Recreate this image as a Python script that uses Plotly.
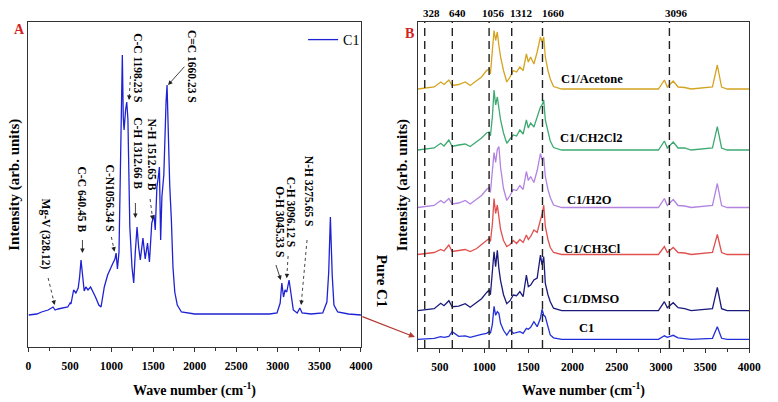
import plotly.graph_objects as go

W, H = 778, 402

# ---------------- Panel A data (pure C1 spectrum) ----------------
wavenumber_A = [0, 100, 157, 236, 295, 320, 354, 420, 472, 500, 511, 543, 570, 598, 615, 632, 650, 670,
                690, 716, 747, 779, 806, 846, 873, 912, 952, 1011, 1040, 1054, 1070, 1089, 1113, 1129,
                1140, 1150, 1168, 1182, 1196, 1219, 1245, 1266, 1285, 1306, 1325, 1345, 1377, 1404, 1432,
                1455, 1483, 1510, 1525, 1545, 1562, 1575, 1590, 1605, 1628, 1645, 1655, 1667, 1683, 1699,
                1719, 1738, 1760, 1790, 1840, 2000, 2500, 2900, 2990, 3028, 3048, 3068, 3087, 3107, 3135,
                3155, 3186, 3233, 3265, 3292, 3400, 3540, 3590, 3612, 3632, 3654, 3675, 3720, 3850, 4000]
intensity_A = [32, 33, 35, 37, 40, 37, 38, 39, 40, 44, 43, 57, 54, 59, 70, 87, 68, 56,
               60, 57, 60, 55, 50, 42, 40, 60, 72, 83, 88, 94, 78, 95, 210, 292,
               230, 217, 237, 245, 228, 120, 80, 64, 95, 120, 100, 87, 109, 88, 104,
               85, 124, 132, 117, 160, 170, 180, 107, 150, 172, 225, 245, 262, 207, 162,
               127, 80, 55, 42, 35, 33, 33, 33, 34, 44, 64, 50, 57, 55, 67,
               54, 37, 34, 39, 34, 33, 34, 45, 75, 130, 72, 42, 35, 33, 32]
series_A_name = "C1"

# ---------------- Panel B data (C1 in solvents) ----------------
wavenumber_B = [250, 435, 509, 546, 601, 638, 712, 786, 842, 916, 971, 1027, 1056, 1071, 1093, 1112, 1130,
                1149, 1167, 1186, 1219, 1256, 1293, 1330, 1367, 1404, 1441, 1478, 1500, 1526, 1563, 1600,
                1637, 1655, 1674, 1692, 1722, 1748, 1785, 1877, 2972, 3039, 3072, 3139, 3194, 3268, 3342,
                3583, 3638, 3686, 3749, 4000]
acetone = [0, 2, 7, 4.5, 9, 3.5, 4.5, 7, 3.5, 8.5, 12, 18.5, 20, 15, 35, 58.5, 48.5,
           57, 43.5, 32, 18.5, 7, 12, 18.5, 17, 22, 18.5, 35, 27, 32, 25, 37,
           52, 47, 52, 32, 18.5, 10, 2.5, 0, 0, 9, 2, 8, 2, 1.5, 0,
           2, 24, 2, 0, 0]
ch2cl2 = [0, 2, 6.7, 4, 10, 3.5, 5, 6, 3.5, 8, 12, 17, 18, 14, 33, 60, 45,
          53, 40, 30, 17, 6.7, 11, 15, 14, 20, 16, 30, 22, 27, 23, 32,
          43, 45, 50, 30, 18, 9, 2.5, 0, 0, 9, 2, 8, 2, 2, 0,
          2, 23.3, 2, 0, 0]
h2o = [0, 2, 7, 4.5, 9, 3.5, 4.5, 7, 3.5, 8.5, 12, 18, 20, 15, 33, 55, 45,
       58, 61, 40, 19, 7, 12, 18, 17, 22, 18, 36, 27, 31, 25, 37,
       54, 48, 50, 31, 18, 10, 2.5, 0, 0, 9, 2, 8, 2, 1.5, 0,
       2, 24, 2, 0, 0]
ch3cl = [0, 2, 5, 3.5, 9.5, 3, 4, 5, 3, 6, 10, 14, 16, 13, 30, 56, 41,
         49.5, 34.5, 25, 14, 8, 10, 14, 11, 15, 12, 19.5, 15, 18, 24.5, 22,
         34.5, 40, 49.5, 28, 15, 7, 2, 0, 0, 8, 2, 7, 2, 1.5, 0,
         2, 20, 2, 0, 0]
dmso = [0, 2, 7.4, 5, 10, 4, 4.5, 7, 3.5, 8, 12, 18, 20.7, 16, 40, 59, 44,
        60.5, 42, 30, 16, 7, 10, 15.7, 15, 19, 14, 35.7, 24, 25.7, 30.7, 32.7,
        55.7, 45.7, 54, 27.4, 16, 9, 2.5, 0, 0, 9, 3, 8, 3, 2, 0,
        2, 23.4, 2, 0, 0]
c1 = [0, 1, 2.6, 2, 3, 7.6, 3, 3.5, 2, 4, 5, 6, 7.6, 6, 15, 33, 24,
      27.6, 26, 16, 9, 4.3, 9.3, 6, 7, 7.6, 6, 11, 10, 12, 17.6, 12.6,
      21, 30, 24, 22.6, 12.6, 4.3, 1.5, 0, 0, 3.5, 2, 4, 1.5, 1, 0,
      1, 12.6, 1, 0, 0]
sample_names = ["C1/Acetone", "C1/CH2Cl2", "C1/H2O", "C1/CH3Cl", "C1/DMSO", "C1"]
sample_values = [acetone, ch2cl2, h2o, ch3cl, dmso, c1]
reference_lines = [328, 640, 1056, 1312, 1660, 3096]
tick_values_A = [0, 500, 1000, 1500, 2000, 2500, 3000, 3500, 4000]
tick_values_B = [500, 1000, 1500, 2000, 2500, 3000, 3500, 4000]

peak_labels_A = ["Mg-V (328.12)", "C-C 640.45 B", "C-N1056.34 S", "C-C 1198.23 S", "C-H 1312.66 B",
                 "N-H 1512.65 B", "C=C 1660.23 S", "O-H 3045.33 S", "C-H 3096.12 S", "N-H 3275.65 S"]

# ---------------- styling / layout ----------------
stack_offsets = [259, 198, 140.5, 93.5, 37.3, 8.7]
sample_colors = ["#D4A421", "#3DAA72", "#B283E0", "#E0504E", "#1A1A7C", "#2230D8"]
blue_A = "#1E22D2"
SERIF = "Liberation Serif"

# Panel pixel boxes
A_L, A_R, A_T, A_B = 26, 365, 22, 347
B_L, B_R, B_T, B_B = 423, 761, 22, 348


def px(x):
    return x / W


def py(y):
    return 1 - y / H


def text_ann(x, y, text, size, angle=0, color="black", weight="bold"):
    fig.add_annotation(x=px(x), y=py(y), xref="paper", yref="paper", text=text, showarrow=False,
                       xanchor="center", yanchor="middle", textangle=angle,
                       font=dict(family=SERIF, size=size, color=color, weight=weight))


fig = go.Figure()
fig.add_trace(go.Scatter(x=wavenumber_A, y=intensity_A, mode="lines", name=series_A_name,
                         line=dict(color=blue_A, width=1.3), xaxis="x", yaxis="y", showlegend=True))
for name, vals, off, col in zip(sample_names, sample_values, stack_offsets, sample_colors):
    fig.add_trace(go.Scatter(x=wavenumber_B, y=[v + off for v in vals], mode="lines", name=name,
                             line=dict(color=col, width=1.3), xaxis="x2", yaxis="y2", showlegend=False))

axis_common = dict(showgrid=False, zeroline=False, showline=True, mirror=True,
                   linecolor="#333333", linewidth=1.3)
xtick_common = dict(ticks="outside", ticklen=4, tickwidth=1, tickcolor="#333333",
                    tickfont=dict(family=SERIF, size=11.5, color="black", weight="bold"),
                    ticklabelstandoff=4,
                    minor=dict(ticks="outside", ticklen=3, dtick=250, tickcolor="#333333"))

fig.update_layout(
    width=W, height=H, margin=dict(l=0, r=0, t=0, b=0),
    paper_bgcolor="white", plot_bgcolor="white",
    xaxis=dict(domain=[px(A_L), px(A_R)], range=[0, 4000], tickvals=tick_values_A, anchor="y",
               **axis_common, **xtick_common),
    yaxis=dict(domain=[py(A_B), py(A_T)], range=[0, 325], showticklabels=False, ticks="",
               anchor="x", **axis_common),
    xaxis2=dict(domain=[px(B_L), px(B_R)], range=[250, 4000], tickvals=tick_values_B, anchor="y2",
                **axis_common, **xtick_common),
    yaxis2=dict(domain=[py(B_B), py(B_T)], range=[0, 326], showticklabels=False, ticks="",
                anchor="x2", **axis_common),
    legend=dict(x=px(306), y=py(24), xanchor="left", yanchor="top", bgcolor="rgba(0,0,0,0)",
                font=dict(family=SERIF, size=14, color="black"), itemwidth=30),
    showlegend=True,
)

# dashed reference lines in panel B with their labels above the panel
ref_label_px = [437, 463, 500, 528, 561, 687]
for v, lpx in zip(reference_lines, ref_label_px):
    fig.add_shape(type="line", xref="x2", yref="paper", x0=v, x1=v, y0=py(B_B), y1=py(B_T),
                  line=dict(color="#222222", width=1.4, dash="8px,5px"))
    line_px = B_L + (v - 250) / 3750 * (B_R - B_L)
    fig.add_annotation(x=v, y=py(13), xref="x2", yref="paper", text=str(v), showarrow=False,
                       xanchor="center", yanchor="middle", xshift=lpx - line_px,
                       font=dict(family=SERIF, size=11, color="black", weight="bold"))

# sample labels in panel B
label_pos_B = [(601, 79), (600, 138), (598, 200), (601, 249), (600, 299), (595, 328)]
for name, (lx, ly) in zip(sample_names, label_pos_B):
    text_ann(lx, ly, name, 12.5)

# peak labels in panel A (rotated)
label_pos_A = [(44.3, 234), (81, 200), (109.5, 198), (137.5, 68), (137.5, 153), (151.5, 154),
               (192.7, 67), (282.3, 222), (294, 212), (312.7, 191.5)]
for txt, (lx, ly) in zip(peak_labels_A, label_pos_A):
    text_ann(lx, ly, txt, 11.5, angle=90)

# pointer arrows (tail px, head px, dotted?)
arrows_A = [((46, 278), (52.7, 305), True), ((81, 240), (81, 253), False),
            ((110.5, 237), (113.7, 251.7), True), ((130, 76), (128.5, 100), True),
            ((135, 203), (135, 218), False), ((150, 199), (152.7, 220), True),
            ((185, 66.7), (168.3, 85), False), ((278.3, 265), (283.3, 280), False),
            ((290.7, 256), (289.3, 278.3), True), ((310, 240), (304, 305), True)]
for (tx, ty), (hx, hy), dotted in arrows_A:
    dx, dy = tx - hx, ty - hy
    L = (dx * dx + dy * dy) ** 0.5
    ux, uy = dx / L, dy / L
    fig.add_shape(type="line", xref="paper", yref="paper", x0=px(tx), y0=py(ty),
                  x1=px(hx + ux * 3), y1=py(hy + uy * 3),
                  line=dict(color="#444444", width=1, dash="dot" if dotted else "solid"))
    fig.add_annotation(x=px(hx), y=py(hy), xref="paper", yref="paper", text="", showarrow=True,
                       ax=ux * 6, ay=uy * 6, arrowhead=2, arrowsize=0.9, arrowwidth=1,
                       arrowcolor="#222222")

# panel letters
text_ann(17, 30, "A", 14, color="#D42020")
text_ann(414, 33, "B", 14, color="#D42020")

# axis titles
for cx in [(A_L + A_R) / 2, (B_L + B_R) / 2]:
    text_ann(cx, 389, "Wave number (cm<sup>-1</sup>)", 14)
for cx in [12, 408]:
    text_ann(cx, 185, "Intensity (arb. units)", 15, angle=-90)
text_ann(386.7, 281, "Pure C1", 15, angle=90)

# red connecting arrow
fig.add_annotation(x=px(420), y=py(337), xref="paper", yref="paper", text="", showarrow=True,
                   ax=-54, ay=-21, arrowhead=2, arrowsize=1, arrowwidth=1.2, arrowcolor="#B23A32")

fig.write_html("out.html")
